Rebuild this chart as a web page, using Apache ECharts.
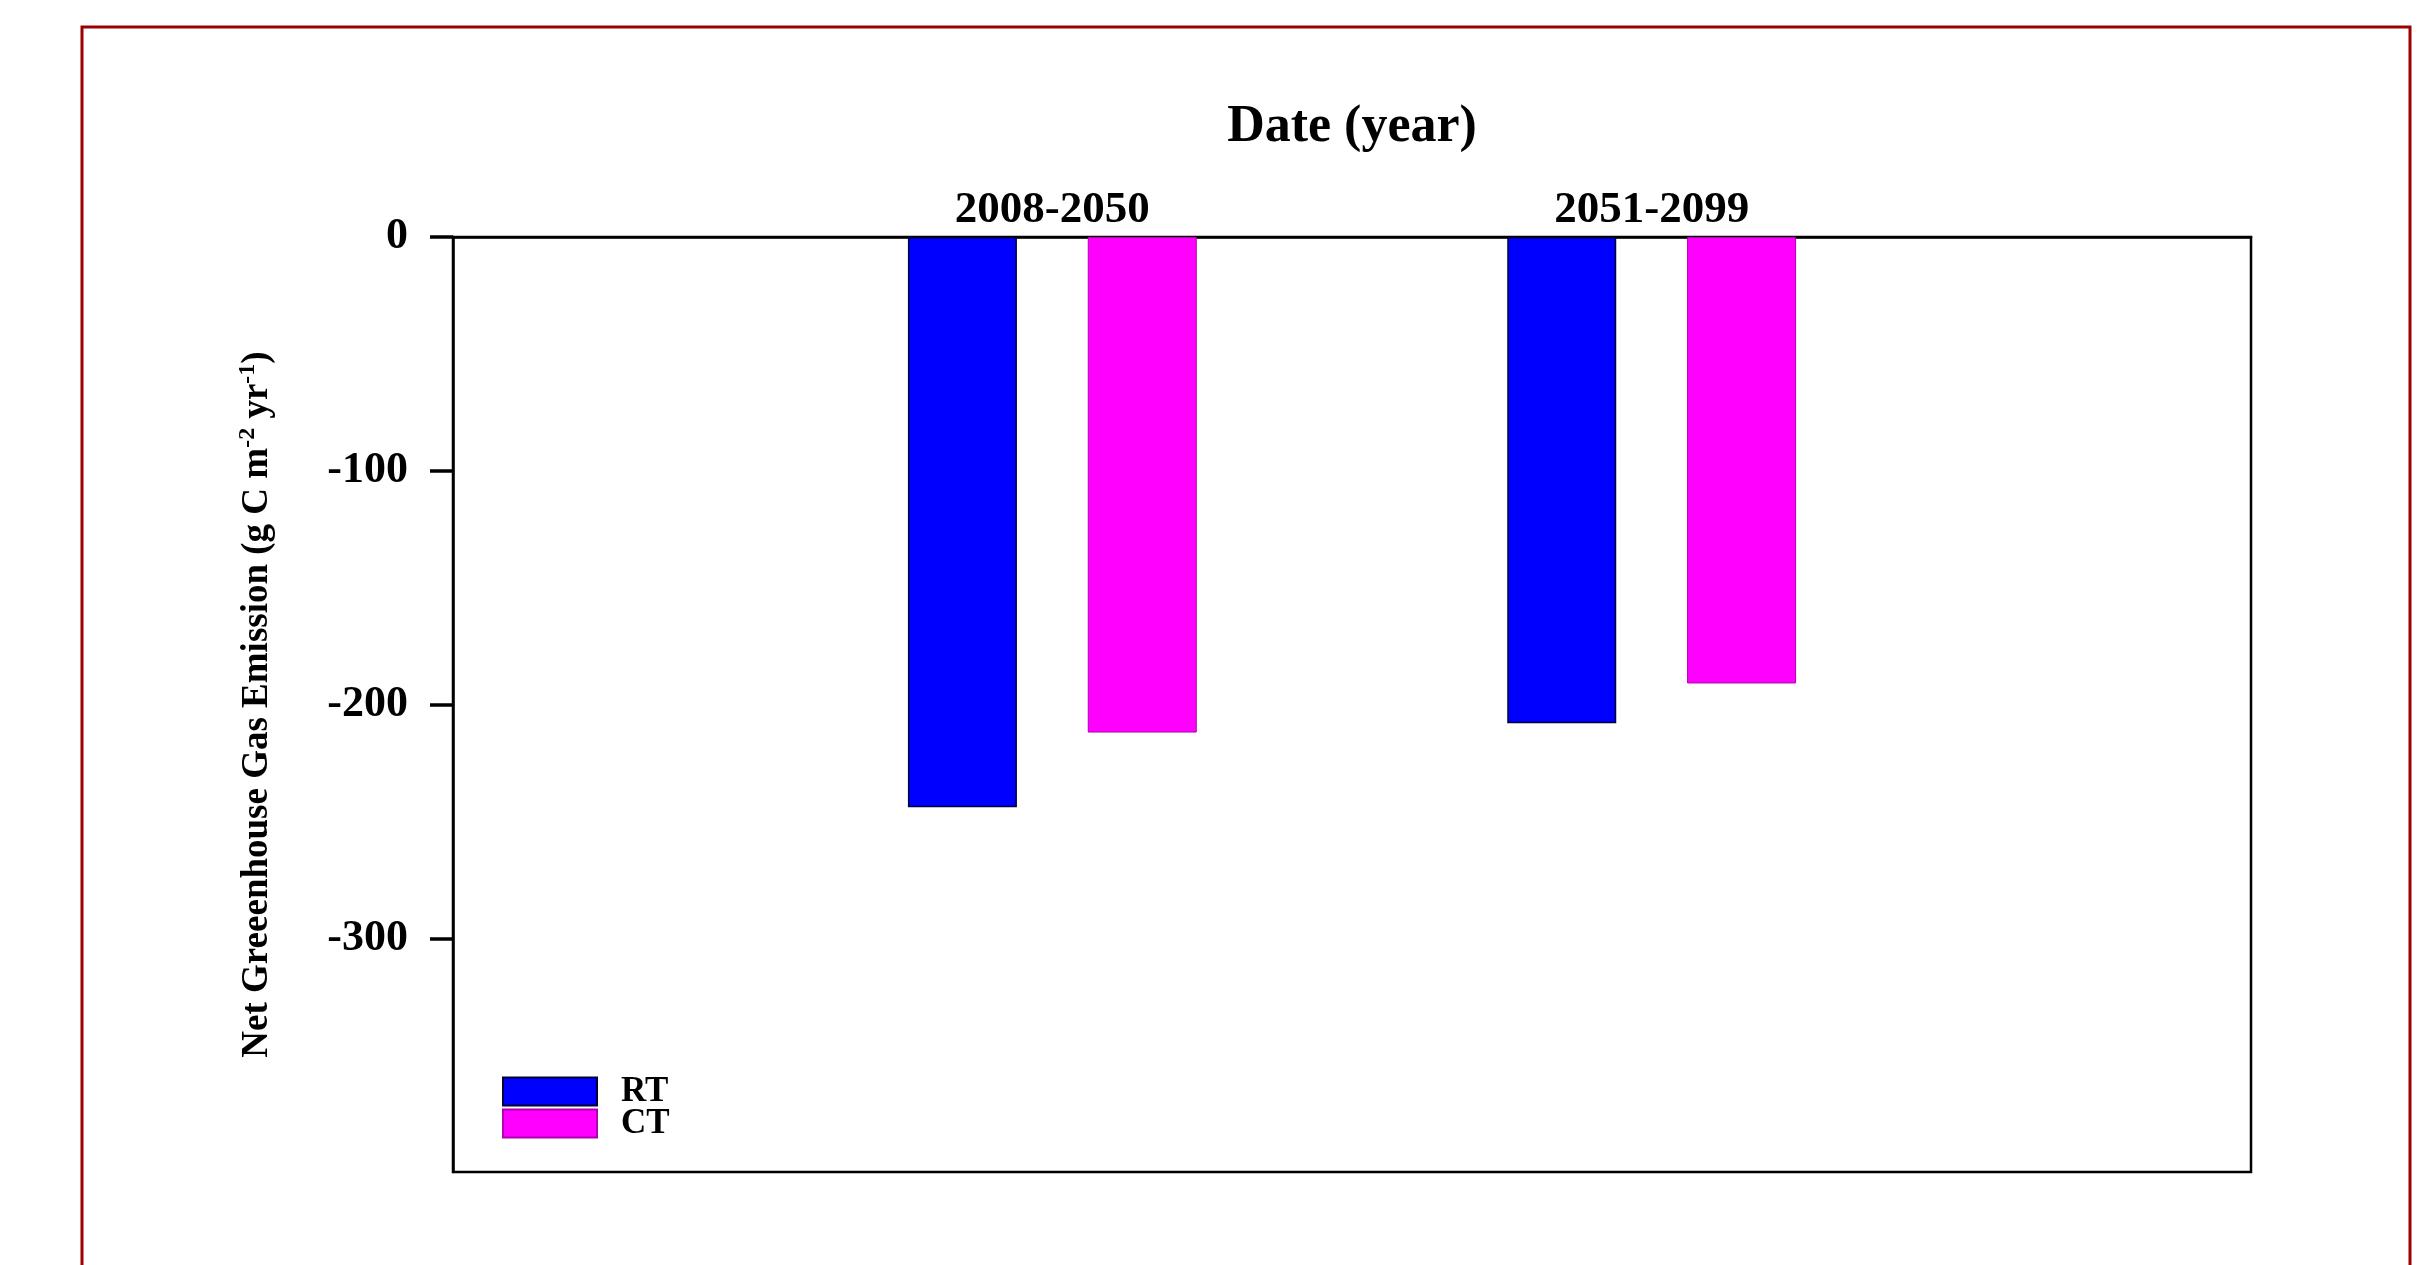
<!DOCTYPE html>
<html>
<head>
<meta charset="utf-8">
<script src="https://cdn.jsdelivr.net/npm/echarts@6/dist/echarts.min.js"></script>
<style>
  html, body { margin: 0; padding: 0; background: #fff; }
  #chart { width: 2419px; height: 1265px; }
</style>
</head>
<body>
<div id="chart"></div>
<script>
// data
var periods = ['2008-2050', '2051-2099'];
var rtValues = [-244, -208];
var ctValues = [-212, -191];
var yTicks = [0, -100, -200, -300];

// pad the category axis so the two groups sit at 1/3 and 2/3 of the width
var xCats = [''].concat(periods, ['']);
var rtData = [null].concat(rtValues, [null]);
var ctData = [null].concat(ctValues, [null]);

var serif = 'Liberation Serif';
var myChart = echarts.init(document.getElementById('chart'));

var option = {
  backgroundColor: '#fff',
  animation: false,
  graphic: [{
    type: 'rect',
    shape: { x: 82, y: 27, width: 2328, height: 1300 },
    style: { fill: 'none', stroke: '#9b0000', lineWidth: 3 }
  }],
  grid: {
    left: 453, right: 168, top: 237, bottom: 93,
    show: true, borderColor: '#000', borderWidth: 2.5,
    backgroundColor: 'transparent'
  },
  legend: {
    orient: 'vertical',
    left: 497, top: 1069,
    icon: 'rect',
    itemWidth: 94, itemHeight: 28, itemGap: -3,
    data: ['RT', 'CT'],
    textStyle: {
      fontFamily: serif, fontWeight: 'bold', fontSize: 35, color: '#000',
      padding: [0, 0, 0, 19]
    }
  },
  xAxis: {
    type: 'category',
    position: 'top',
    data: xCats,
    boundaryGap: false,
    name: 'Date (year)',
    nameLocation: 'middle',
    nameGap: 83,
    nameTextStyle: { fontFamily: serif, fontWeight: 'bold', fontSize: 52, color: '#000' },
    axisLine: { onZero: false, lineStyle: { color: '#000', width: 2.7 } },
    axisTick: { show: false },
    axisLabel: { margin: 4, fontFamily: serif, fontWeight: 'bold', fontSize: 45, color: '#000' },
    splitLine: { show: false }
  },
  yAxis: {
    type: 'value',
    min: -400, max: 0, interval: 100,
    name: 'Net Greeenhouse Gas Emission (g C m{sup|-2} yr{sup|-1})',
    nameLocation: 'middle',
    nameGap: 175,
    nameTextStyle: {
      fontFamily: serif, fontWeight: 'bold', fontSize: 37, color: '#000', lineHeight: 42,
      rich: { sup: { fontFamily: serif, fontWeight: 'bold', fontSize: 24, lineHeight: 42, verticalAlign: 'top', color: '#000' } }
    },
    axisLine: { show: true, lineStyle: { color: '#000', width: 2.5 } },
    axisTick: { show: true, customValues: yTicks, length: 23, lineStyle: { color: '#000', width: 3.5 } },
    axisLabel: { customValues: yTicks, margin: 45, fontFamily: serif, fontWeight: 'bold', fontSize: 44, color: '#000' },
    splitLine: { show: false }
  },
  series: [
    {
      name: 'RT', type: 'bar', data: rtData,
      barWidth: 109, barGap: '65%',
      itemStyle: { color: '#0000ff', borderColor: '#00003a', borderWidth: 1.5 }
    },
    {
      name: 'CT', type: 'bar', data: ctData,
      barWidth: 109,
      itemStyle: { color: '#ff00ff', borderColor: '#b000b0', borderWidth: 1 }
    }
  ]
};

myChart.setOption(option);
</script>
</body>
</html>
